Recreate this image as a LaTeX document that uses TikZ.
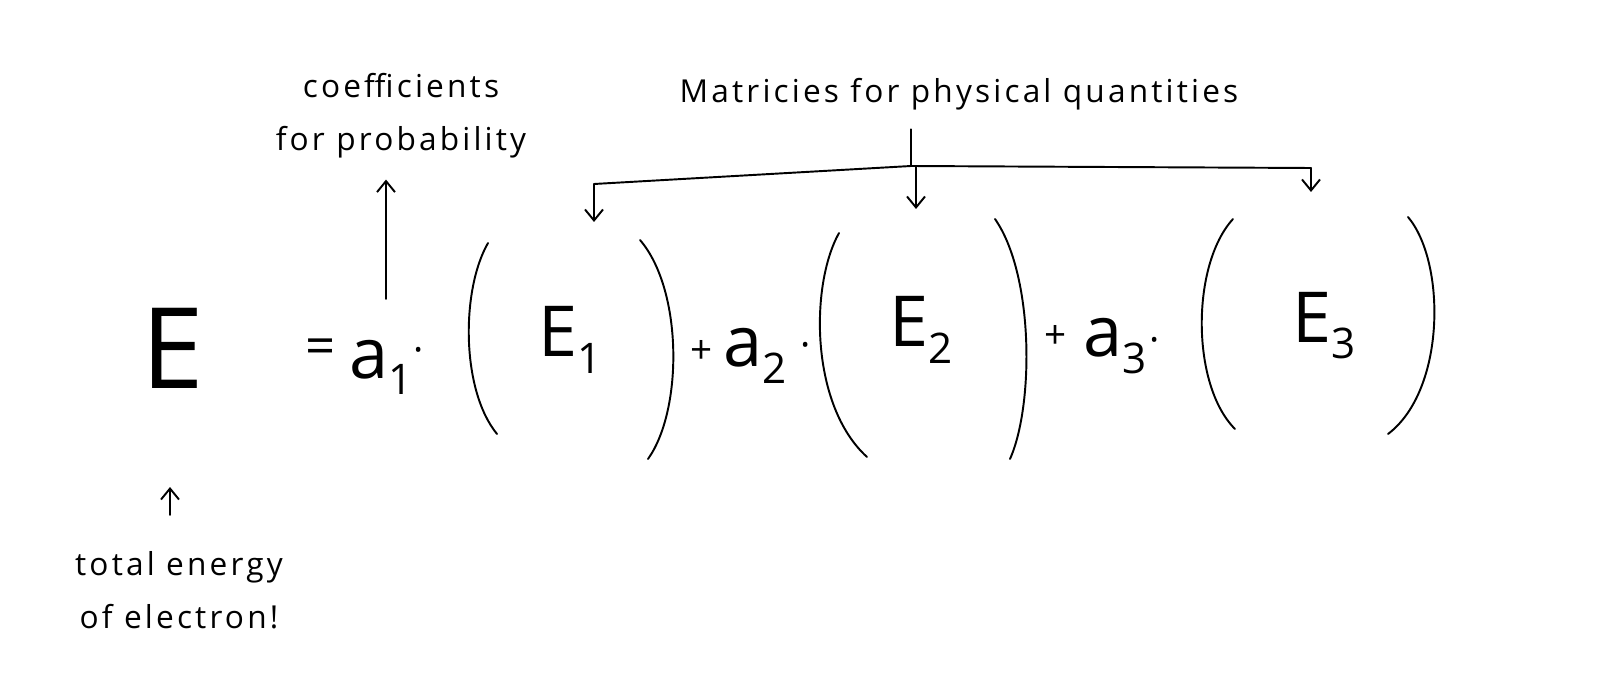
\documentclass[tikz,border=0pt]{standalone}
\usepackage{fontspec}
\setmainfont{Open Sans}
\newfontfamily\handfont[LetterSpace=10]{Open Sans}
\usetikzlibrary{positioning,arrows.meta}
\newcommand\lowidx[1]{\raisebox{-0.45ex}{\scalebox{0.6}{#1}}}

\begin{document}
\begin{tikzpicture}[
  x=0.02cm, y=-0.02cm,
  pen/.style ={line width=1.1pt, line cap=round},
  ar/.style  ={pen, -{Straight Barb[length=2.2mm,width=3.6mm]}},
  note/.style={font=\handfont\fontsize{18}{30}\selectfont, align=center, inner sep=0pt},
  sym/.style ={inner sep=0pt, anchor=base},
  big/.style ={sym, font=\fontsize{40}{40}\selectfont},
  op/.style  ={inner sep=0pt, font=\fontsize{22}{22}\selectfont},
]
\useasboundingbox (0,0) rectangle (1600,689);

% the equation
\node[sym, font=\fontsize{64}{64}\selectfont] (bigE) at (173,388) {E};
\node[op, font=\fontsize{30}{30}\selectfont] (eq) at (321,352) {=};
\node[big] (a1) at (381,378) {a\lowidx{1}};
\node[op] (dot1) at (419,355) {·};
\node[big] (E1) at (570,357) {E\lowidx{1}};
\node[op] (plus1) at (702,352) {+};
\node[big] (a2) at (755,367) {a\lowidx{2}};
\node[op] (dot2) at (806,350) {·};
\node[big] (E2) at (921,347) {E\lowidx{2}};
\node[op] (plus2) at (1056,337) {+};
\node[big] (a3) at (1115,357) {a\lowidx{3}};
\node[op] (dot3) at (1155,345) {·};
\node[big] (E3) at (1324,342) {E\lowidx{3}};

% brackets round each matrix
\draw[pen] (488,243) .. controls (461,290) and (461,390) .. (497,434);
\draw[pen] (640,240) .. controls (683,290) and (683,410) .. (648,459);
\draw[pen] (839,233) .. controls (810,285) and (810,405) .. (867,457);
\draw[pen] (995,219) .. controls (1034,275) and (1034,405) .. (1010,459);
\draw[pen] (1233,219) .. controls (1191,265) and (1191,385) .. (1235,429);
\draw[pen] (1408,217) .. controls (1446,262) and (1446,390) .. (1388,434);

% labels
\node[note] (coef) at (401,116) {coefficients\\for probability};
\node[note] (mat) at (959,94) {Matricies for physical quantities};
\node[note] (total) at (179,590) {total energy\\of electron!};

% connectors
\coordinate (pa) at (386,299);
\draw[ar, shorten >=4.2mm] (pa) -- (pa |- coef.south);

\coordinate (bl) at (594,184);
\coordinate (bm) at (911,166);
\coordinate (br) at (1311,168);
\draw[pen, shorten <=3.8mm] (bm |- mat.south) -- (bm);
\draw[pen] (bl) -- (bm) -- (br);
\draw[ar] (bl) -- ++(0,38);
\draw[ar] ([xshift=1mm]bm) -- ++(0,43);
\draw[ar] (br) -- ++(0,24);

\coordinate (eb) at (170,515);
\draw[ar] (eb) -- ++(0,-28);

\end{tikzpicture}
\end{document}
